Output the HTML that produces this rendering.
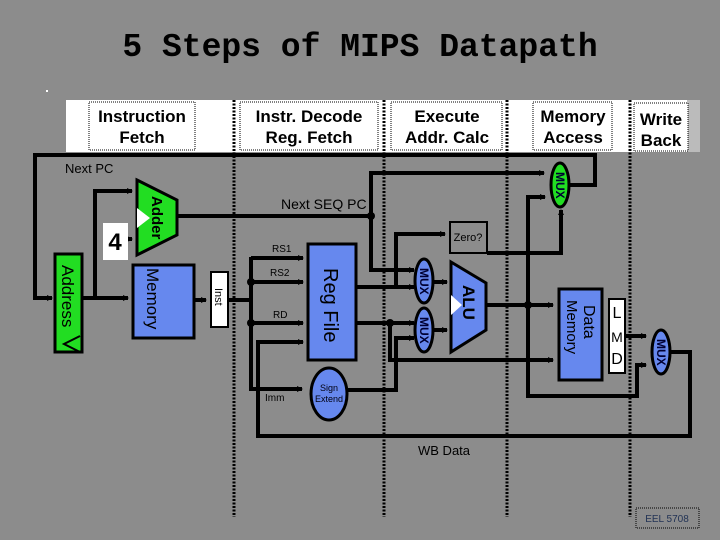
<!DOCTYPE html>
<html><head><style>
html,body{margin:0;padding:0;background:#8c8c8c;}
svg{display:block}
text{font-family:"Liberation Sans",sans-serif;}
</style></head><body>
<svg width="720" height="540" viewBox="0 0 720 540" xmlns="http://www.w3.org/2000/svg">
<defs>
<marker id="a" markerWidth="6" markerHeight="6" refX="5" refY="3" orient="auto" markerUnits="userSpaceOnUse"><path d="M0,0 L6,3 L0,6z" fill="#000"/></marker>
</defs>
<rect width="720" height="540" fill="#8c8c8c"/>
<text x="360" y="56" text-anchor="middle" font-family="Liberation Mono" font-weight="bold" font-size="33" fill="#000" style="font-family:'Liberation Mono',monospace">5 Steps of MIPS Datapath</text>
<rect x="46" y="90" width="2" height="2" fill="#fff"/>
<!-- header band -->
<rect x="66" y="100" width="634" height="52" fill="#fff"/>
<rect x="687" y="100" width="13" height="52" fill="#bbb"/>
<g fill="#fff" stroke="#000" stroke-width="1" stroke-dasharray="1,1">
<rect x="89" y="102" width="106" height="48"/>
<rect x="240" y="102" width="138" height="48"/>
<rect x="391" y="102" width="111" height="48"/>
<rect x="533" y="102" width="79" height="48"/>
<rect x="634" y="103" width="54" height="48"/>
</g>
<g font-weight="bold" font-size="17" text-anchor="middle" fill="#000">
<text x="142" y="122">Instruction</text><text x="142" y="143">Fetch</text>
<text x="309" y="122">Instr. Decode</text><text x="309" y="143">Reg. Fetch</text>
<text x="447" y="122">Execute</text><text x="447" y="143">Addr. Calc</text>
<text x="573" y="122">Memory</text><text x="573" y="143">Access</text>
<text x="661" y="125">Write</text><text x="661" y="146">Back</text>
</g>
<!-- dashed stage lines -->
<g stroke="#000" stroke-width="3" stroke-dasharray="2,1.5">
<line x1="234" y1="100" x2="234" y2="517"/>
<line x1="384" y1="100" x2="384" y2="517"/>
<line x1="507" y1="100" x2="507" y2="517"/>
<line x1="630" y1="100" x2="630" y2="517"/>
</g>
<!-- wires -->
<g stroke="#000" stroke-width="4" fill="none">
<polyline points="550,185 595,185 595,155 35,155 35,298 52,298" marker-end="url(#a)"/>
<polyline points="83,298 128,298" marker-end="url(#a)"/>
<polyline points="95,298 95,191 132,191" marker-end="url(#a)"/>
<polyline points="118,239 132,239" marker-end="url(#a)"/>
<line x1="177" y1="216" x2="371" y2="216"/>
<polyline points="371,216 371,173 544,173" marker-end="url(#a)"/>
<polyline points="371,216 371,270 414,270" marker-end="url(#a)"/>
<polyline points="194,300 206,300" marker-end="url(#a)"/>
<polyline points="228,300 251,300"/>
<polyline points="251,257 251,389 302,389" marker-end="url(#a)"/>
<polyline points="251,258 303,258" marker-end="url(#a)"/>
<polyline points="251,282 303,282" marker-end="url(#a)"/>
<polyline points="251,323 303,323" marker-end="url(#a)"/>
<polyline points="356,287 414,287" marker-end="url(#a)"/>
<polyline points="396,287 396,234 445,234" marker-end="url(#a)"/>
<polyline points="356,323 414,323" marker-end="url(#a)"/>
<polyline points="390,323 390,360 553,360" marker-end="url(#a)"/>
<polyline points="347,390 396,390 396,338 414,338" marker-end="url(#a)"/>
<polyline points="433,282 447,282" marker-end="url(#a)"/>
<polyline points="433,330 447,330" marker-end="url(#a)"/>
<polyline points="487,253 561,253 561,210" marker-end="url(#a)"/>
<polyline points="486,305 553,305" marker-end="url(#a)"/>
<polyline points="528,305 528,197 545,197" marker-end="url(#a)"/>
<polyline points="528,305 528,396 637,396 637,365 646,365" marker-end="url(#a)"/>
<polyline points="625,336 646,336" marker-end="url(#a)"/>
<polyline points="670,352 690,352 690,436 258,436 258,342 303,342" marker-end="url(#a)"/>
</g>
<g fill="#000">
<circle cx="371" cy="216" r="4"/><circle cx="251" cy="282" r="4"/><circle cx="251" cy="323" r="4"/>
<circle cx="390" cy="323" r="4"/><circle cx="528" cy="305" r="4"/>
</g>
<!-- Address -->
<rect x="55" y="254" width="27" height="98" fill="#22dd22" stroke="#000" stroke-width="3"/>
<text transform="translate(62,265) rotate(90)" font-size="17" fill="#000">Address</text>
<path d="M80,336 L64,344 L80,352" fill="none" stroke="#000" stroke-width="2"/>
<!-- Adder -->
<path d="M137,180 L177,200 L177,235 L137,255 Z" fill="#22dd22" stroke="#000" stroke-width="3"/>
<path d="M137,208 L150,218 L137,228 Z" fill="#fff"/>
<text transform="translate(152,196) rotate(90)" font-size="15" font-weight="bold" fill="#000">Adder</text>
<rect x="103" y="223" width="25" height="37" fill="#fff"/>
<text x="115" y="250" text-anchor="middle" font-size="24" font-weight="bold" fill="#000">4</text>
<!-- Memory -->
<rect x="133" y="265" width="61" height="73" fill="#6688ee" stroke="#000" stroke-width="3"/>
<text transform="translate(147,268) rotate(90)" font-size="17" fill="#000">Memory</text>
<rect x="211" y="272" width="17" height="55" fill="#fff" stroke="#000" stroke-width="2"/>
<text transform="translate(215,288) rotate(90)" font-size="11" fill="#000">Inst</text>
<!-- Reg file -->
<rect x="308" y="244" width="48" height="116" fill="#6688ee" stroke="#000" stroke-width="3"/>
<text transform="translate(324,268) rotate(90)" font-size="20" fill="#000">Reg File</text>
<g font-size="10" fill="#000">
<text x="272" y="252">RS1</text><text x="270" y="276">RS2</text><text x="273" y="318">RD</text><text x="265" y="401">Imm</text>
<text x="281" y="209" font-size="14">Next SEQ PC</text>
<text x="65" y="173" font-size="13">Next PC</text>
</g>
<ellipse cx="329" cy="394" rx="18" ry="26" fill="#6688ee" stroke="#000" stroke-width="3"/>
<text x="329" y="391" text-anchor="middle" font-size="9" fill="#001">Sign</text>
<text x="329" y="402" text-anchor="middle" font-size="9" fill="#001">Extend</text>
<!-- Zero -->
<rect x="450" y="222" width="37" height="31" fill="#8c8c8c" stroke="#000" stroke-width="2"/>
<text x="468" y="241" text-anchor="middle" font-size="11" fill="#000">Zero?</text>
<!-- muxes -->
<g stroke="#000" stroke-width="3">
<ellipse cx="560" cy="185" rx="9" ry="22" fill="#22dd22"/>
<ellipse cx="424" cy="281" rx="9" ry="22" fill="#6688ee"/>
<ellipse cx="424" cy="330" rx="9" ry="22" fill="#6688ee"/>
<ellipse cx="661" cy="352" rx="9" ry="22" fill="#6688ee"/>
</g>
<g font-size="12" fill="#003" font-weight="bold">
<text transform="translate(556,172) rotate(90)">MUX</text>
<text transform="translate(420,268) rotate(90)">MUX</text>
<text transform="translate(420,317) rotate(90)">MUX</text>
<text transform="translate(657,339) rotate(90)">MUX</text>
</g>
<!-- ALU -->
<path d="M451,262 L486,283 L486,330 L451,352 Z" fill="#6688ee" stroke="#000" stroke-width="3"/>
<path d="M451,295 L462,305 L451,315 Z" fill="#fff"/>
<text transform="translate(463,285) rotate(90)" font-size="17" font-weight="bold" fill="#000">ALU</text>
<!-- Data memory -->
<rect x="559" y="289" width="43" height="91" fill="#6688ee" stroke="#000" stroke-width="3"/>
<text transform="translate(584,305) rotate(90)" font-size="16" fill="#000">Data</text>
<text transform="translate(567,300) rotate(90)" font-size="15" fill="#000">Memory</text>
<rect x="609" y="299" width="16" height="74" fill="#fff" stroke="#000" stroke-width="2"/>
<text x="617" y="318" text-anchor="middle" font-size="16" fill="#000">L</text>
<text x="617" y="342" text-anchor="middle" font-size="14" fill="#000">M</text>
<text x="617" y="364" text-anchor="middle" font-size="16" fill="#000">D</text>
<text x="418" y="455" font-size="13" fill="#000">WB Data</text>
<rect x="636" y="508" width="63" height="20" fill="#8c8c8c" stroke="#000" stroke-width="1" stroke-dasharray="1,1"/>
<text x="667" y="522" text-anchor="middle" font-size="10" fill="#223355">EEL 5708</text>
</svg>
</body></html>
